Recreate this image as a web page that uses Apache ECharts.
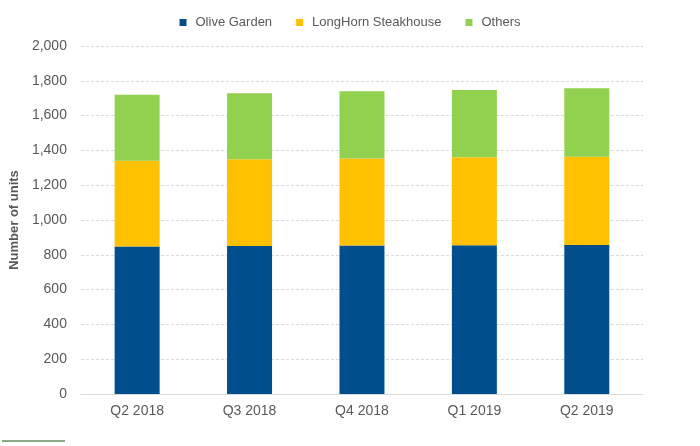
<!DOCTYPE html>
<html>
<head>
<meta charset="utf-8">
<script src="https://cdn.jsdelivr.net/npm/echarts@6/dist/echarts.min.js"></script>
<style>html,body{margin:0;padding:0;background:#fff;}#c{width:700px;height:446px;}</style>
</head>
<body>
<div id="c"></div>
<script>
const categories = ['Q2 2018', 'Q3 2018', 'Q4 2018', 'Q1 2019', 'Q2 2019'];
const oliveGarden = [848, 851, 853, 855, 856];
const longHorn = [492, 498, 501, 505, 508];
const others = [380, 379, 386, 387, 393];
const yTicks = { min: 0, max: 2000, interval: 200 };

const chart = echarts.init(document.getElementById('c'));
const font = '"Liberation Sans", Arial, sans-serif';
function bar(name, data, color) {
  return { name, type: 'bar', stack: 'total', data, barWidth: 45,
    itemStyle: { color }, emphasis: { disabled: true } };
}
chart.setOption({
  animation: false,
  textStyle: { fontFamily: font },
  legend: {
    top: 11, left: 'center', itemWidth: 7, itemHeight: 7, itemGap: 24,
    icon: 'rect',
    textStyle: { fontFamily: font, fontSize: 13, color: '#595959', padding: [0, 0, 0, 4] },
    data: ['Olive Garden', 'LongHorn Steakhouse', 'Others']
  },
  grid: { left: 80, right: 57, top: 46, bottom: 52 },
  xAxis: {
    type: 'category', data: categories,
    axisLine: { lineStyle: { color: '#d9d9d9' } },
    axisTick: { show: false },
    axisLabel: { fontFamily: font, fontSize: 14, color: '#595959', margin: 10 }
  },
  yAxis: {
    type: 'value', min: yTicks.min, max: yTicks.max, interval: yTicks.interval,
    name: 'Number of units', nameLocation: 'middle', nameGap: 54, nameRotate: 90,
    nameTextStyle: { fontFamily: font, fontSize: 13, fontWeight: 'bold', color: '#595959' },
    axisLine: { show: false }, axisTick: { show: false },
    axisLabel: { fontFamily: font, fontSize: 14, color: '#595959', margin: 14,
      formatter: v => v.toLocaleString('en-US') },
    splitLine: { lineStyle: { color: '#d9d9d9', type: [3, 2] } }
  },
  graphic: [{ type: 'line', shape: { x1: 2, y1: 441, x2: 65, y2: 441 },
    style: { stroke: '#8aa882', lineWidth: 2 } }],
  series: [
    bar('Olive Garden', oliveGarden, '#004f8c'),
    bar('LongHorn Steakhouse', longHorn, '#ffc000'),
    bar('Others', others, '#92d050')
  ]
});
</script>
</body>
</html>
